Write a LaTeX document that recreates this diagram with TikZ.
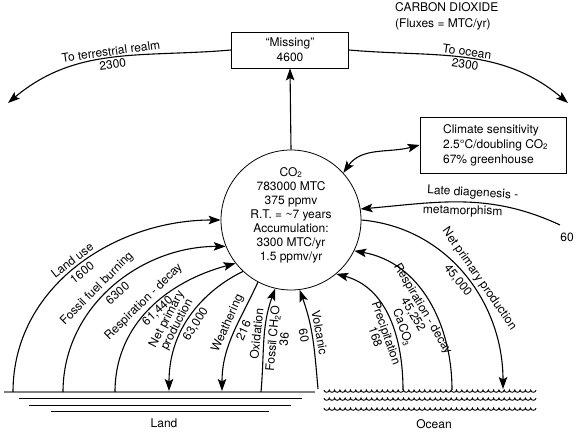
\documentclass[tikz,border=0pt]{standalone}
\usepackage{fontspec}
\setmainfont{TeX Gyre Heros}
\usetikzlibrary{arrows.meta}

\begin{document}
\begin{tikzpicture}[x=1pt,y=1pt,
    font=\fontsize{12}{14}\selectfont,
    flux/.style={line width=1.1pt,-{Stealth[length=12pt,width=8.5pt,inset=2.5pt]}},
    bothways/.style={line width=1.1pt,{Stealth[length=12pt,width=8.5pt,inset=2.5pt]}-{Stealth[length=12pt,width=8.5pt,inset=2.5pt]}},
    fluxlabel/.style={sloped,align=center,inner sep=3pt,font=\fontsize{12}{11.5}\selectfont},
    box/.style={draw,line width=0.8pt}]

\useasboundingbox (0,0) rectangle (577,433);

% reservoir and boxes
\node[circle,box,minimum size=140pt,inner sep=0pt] (co2) at (291,213) {};
\node[align=center] (co2text) at (291,218)
  {CO\textsubscript{2}\\783000 MTC\\375 ppmv\\R.T. = \textasciitilde7 years\\Accumulation:\\3300 MTC/yr\\1.5 ppmv/yr};

\node[box,minimum width=117pt,minimum height=36pt,align=center,font=\fontsize{12}{15}\selectfont] (missing) at (290,383) {``Missing''\\4600};

\node[box,minimum width=146pt,minimum height=56pt] (climate) at (493,288) {};
\node[align=left,anchor=west,font=\fontsize{12}{15}\selectfont] (climtext) at ([xshift=20pt]climate.west)
  {Climate sensitivity\\2.5°C/doubling CO\textsubscript{2}\\67\% greenhouse};

\node[align=left,anchor=north west,inner sep=0pt,font=\fontsize{12}{16}\selectfont] (title) at (395,431)
  {CARBON DIOXIDE\\(Fluxes = MTC/yr)};

% ground
\draw[line width=1.4pt,gray] (4,41) -- (315,41);
\draw[line width=0.9pt] (19,35) -- (302,35);
\draw[line width=0.9pt] (29,28) -- (291,28);
\draw[line width=0.9pt] (51,22) -- (269,22);
\node (land) at (164,10) {Land};

\foreach \row in {43,35,25}
  \draw[line width=0.9pt] (324,\row) foreach \i in {1,...,40} {arc[start angle=180,end angle=360,x radius=2.65,y radius=2.3]};
\node (ocean) at (434,9) {Ocean};

\coordinate (landuse) at (13,41);
\coordinate (fossil) at (63,41);
\coordinate (resp) at (115,41);
\coordinate (npp) at (169,42);
\coordinate (weather) at (222,42);
\coordinate (oxid) at (261,41);
\coordinate (volc) at (318,44);
\coordinate (precip) at (403,43);
\coordinate (respo) at (452,43);
\coordinate (nppo) at (503,44);
\coordinate (diag) at (560,208);
\coordinate (terr) at (8,330);
\coordinate (sea) at (568,330);
\node (diag60) at (567,196) {60};

% land fluxes
\draw[flux] (landuse) to[out=90,in=180]
  node[fluxlabel,above,pos=.5]{Land use} node[fluxlabel,below,pos=.5]{1600} (co2.180);
\draw[flux] (fossil) to[out=90,in=180]
  node[fluxlabel,above,pos=.45]{Fossil fuel burning} node[fluxlabel,below,pos=.5]{6300} (co2.202);
\draw[flux] (resp) to[out=90,in=195]
  node[fluxlabel,above,pos=.5]{Respiration - decay} node[fluxlabel,below,pos=.52,inner sep=1.5pt]{61,440} (co2.218);
\draw[flux] (co2.227) .. controls +(205:25) and +(90:75) ..
  node[fluxlabel,above,pos=.66,inner sep=1pt]{Net primary\\production} node[fluxlabel,below,pos=.6]{63,000} (npp);
\draw[flux] (co2.242) to[out=245,in=90]
  node[fluxlabel,above,pos=.42]{Weathering} node[fluxlabel,below,pos=.42]{216} (weather);
\draw[flux] (oxid) to[out=85,in=250]
  node[fluxlabel,above,pos=.55]{Oxidation} node[fluxlabel,below,pos=.52]{Fossil CH\textsubscript{2}O\\36} (co2.257);
\draw[flux] (volc) to[out=95,in=290]
  node[fluxlabel,above,pos=.55]{Volcanic} node[fluxlabel,below,pos=.55]{60} (co2.277);

% ocean fluxes
\draw[flux] (precip) to[out=90,in=345]
  node[fluxlabel,above,pos=.4]{CaCO\textsubscript{3}} node[fluxlabel,below,pos=.4]{Precipitation\\168} (co2.310);
\draw[flux] (respo) to[out=90,in=350]
  node[fluxlabel,below,pos=.47]{Respiration - decay\\45,252} (co2.334);
\draw[flux] (co2.0) to[out=-5,in=90]
  node[fluxlabel,above,pos=.55]{Net primary production} node[fluxlabel,below,pos=.5]{45,000} (nppo);
\draw[flux] (diag) to[out=155,in=5]
  node[fluxlabel,above,pos=.45]{Late diagenesis -} node[fluxlabel,below,pos=.5]{metamorphism} (co2.9);

% missing sink
\draw[flux] (co2.north) -- (missing.south);
\draw[flux] (missing.west) to[out=185,in=40]
  node[fluxlabel,above,inner sep=1.5pt]{To terrestrial realm} node[fluxlabel,below,inner sep=1.5pt]{2300} (terr);
\draw[flux] (missing.east) to[out=-5,in=140]
  node[fluxlabel,above,inner sep=1.5pt]{To ocean} node[fluxlabel,below,inner sep=1.5pt]{2300} (sea);
\draw[bothways] (co2.42) to[out=55,in=195] (climate.west);

\end{tikzpicture}
\end{document}
